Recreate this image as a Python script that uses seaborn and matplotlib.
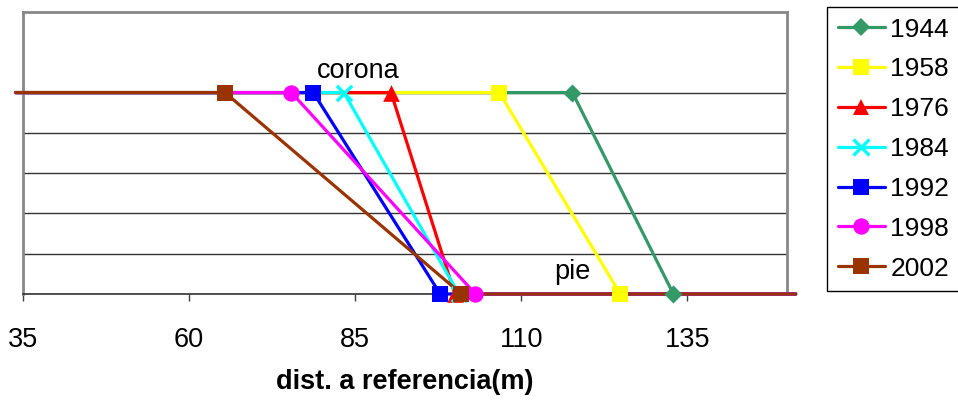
import matplotlib
matplotlib.use("Agg")
import matplotlib.pyplot as plt
import pandas as pd
import seaborn as sns
from matplotlib.lines import Line2D

# Survey years and the two break points of each profile
years = ["1944", "1958", "1976", "1984", "1992", "1998", "2002"]
corona_x = [117.7, 106.7, 90.4, 83.3, 78.7, 75.4, 65.4]   # crest (corona)
pie_x = [132.9, 124.9, 100.0, 100.6, 97.8, 103.1, 101.0]  # toe (pie)
x_start = 33.9
x_end = 151.3
level_top = 5
level_bottom = 0
x_ticks = [35, 60, 85, 110, 135]

colors = ["#339966", "#FFFF00", "#FF0000", "#00FFFF", "#0000FF", "#FF00FF", "#993300"]
markers = ["D", "s", "^", "x", "s", "o", "s"]
marker_sizes = [9.2, 11.8, 12.0, 11.0, 11.8, 11.8, 11.8]

rows = []
for yr, c, p in zip(years, corona_x, pie_x):
    for k, (xv, yv) in enumerate([(x_start, level_top), (c, level_top),
                                  (p, level_bottom), (x_end, level_bottom)]):
        rows.append({"año": yr, "orden": k, "dist": xv, "nivel": yv})
df = pd.DataFrame(rows)

sns.set_theme(style="white")
plt.rcParams["font.family"] = ["Liberation Sans", "DejaVu Sans"]
plt.rcParams["text.color"] = "black"
plt.rcParams["axes.labelcolor"] = "black"
plt.rcParams["xtick.color"] = "black"

fig = plt.figure(figsize=(9.58, 4.01), dpi=100, facecolor="white")
ax = fig.add_axes([23 / 958, 1 - 294 / 401, (787 - 23) / 958, (294 - 12) / 401])

palette = dict(zip(years, colors))
sns.lineplot(data=df, x="dist", y="nivel", hue="año", hue_order=years,
             palette=palette, sort=False, estimator=None, legend=False,
             linewidth=2.3, ax=ax)
for ln in ax.lines:
    ln.set_clip_on(False)
    ln.set_zorder(3)

# markers at crest and toe, drawn over all profile lines
for yr, c, p, col, mk, ms in zip(years, corona_x, pie_x, colors, markers, marker_sizes):
    pts = pd.DataFrame({"dist": [c, p], "nivel": [level_top, level_bottom]})
    if mk == "x":
        sns.scatterplot(data=pts, x="dist", y="nivel", marker=mk, color=col,
                        s=ms ** 2, linewidth=2.4, ax=ax, legend=False)
    else:
        sns.scatterplot(data=pts, x="dist", y="nivel", marker=mk, color=col,
                        s=ms ** 2, linewidth=0, ax=ax, legend=False)
for coll in ax.collections:
    coll.set_clip_on(False)
    coll.set_zorder(4)

ax.set_xlim(35, 150)
ax.set_ylim(0, 7)
ax.set_xticks(x_ticks)
ax.set_xticklabels([str(t) for t in x_ticks])
ax.set_yticks(range(0, 6))
ax.set_yticklabels([])
ax.tick_params(axis="y", length=0)
ax.tick_params(axis="x", direction="out", length=5, width=1, color="#404040",
               labelsize=19.5, labelcolor="black", pad=19, bottom=True)
ax.yaxis.grid(True, color="#333333", linewidth=1.0)
ax.xaxis.grid(False)
ax.set_axisbelow(True)

for side in ["left", "top", "right"]:
    ax.spines[side].set_color("#888888")
    ax.spines[side].set_linewidth(2.0)
ax.spines["bottom"].set_color("#333333")
ax.spines["bottom"].set_linewidth(1.2)

ax.set_ylabel("")
ax.set_xlabel("dist. a referencia(m)", fontsize=19.5, fontweight="bold",
              color="black", labelpad=11)

ax.text(85.4, 5.53, "corona", fontsize=19.5, ha="center", va="center", color="black")
ax.text(117.7, 0.55, "pie", fontsize=19.5, ha="center", va="center", color="black")

handles = [Line2D([], [], color=col, marker=mk, markersize=ms, linewidth=2.3,
                  markeredgewidth=2.4 if mk == "x" else 0)
           for col, mk, ms in zip(colors, markers, marker_sizes)]
leg = fig.legend(handles, years, loc="upper left",
                 bbox_to_anchor=(827 / 958, 1 - 7 / 401), fontsize=19,
                 frameon=True, fancybox=False, edgecolor="black", framealpha=1,
                 borderpad=0.4, labelspacing=0.6, handlelength=1.8,
                 handletextpad=0.2, borderaxespad=0, numpoints=1)
leg.get_frame().set_linewidth(1.0)

fig.savefig("out.png", dpi=100, facecolor="white")
